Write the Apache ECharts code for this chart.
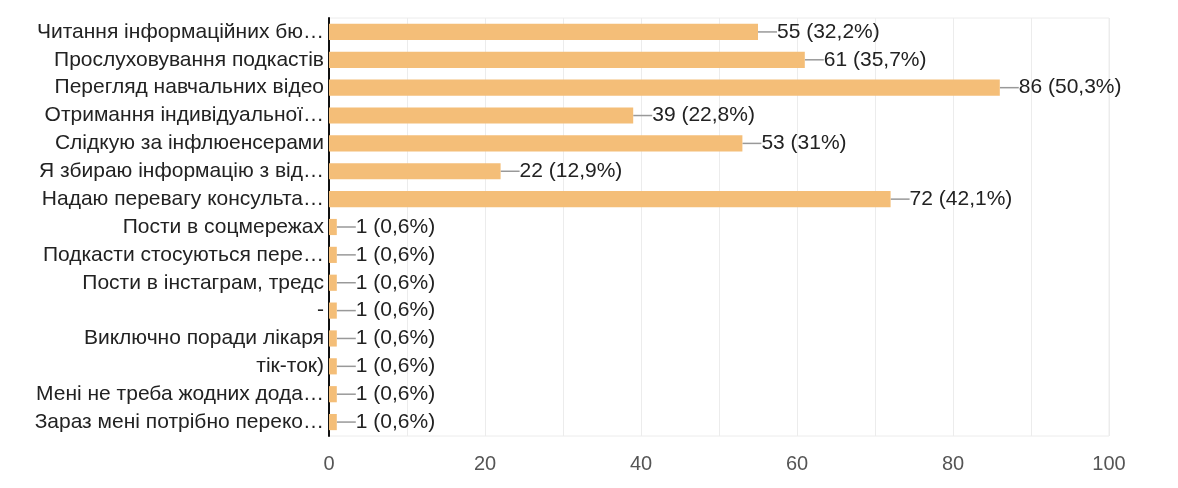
<!DOCTYPE html>
<html><head><meta charset="utf-8">
<script src="https://cdn.jsdelivr.net/npm/echarts@6/dist/echarts.min.js"></script>
<style>html,body{margin:0;padding:0;background:#fff}#c{width:1178px;height:488px}</style>
</head><body><div id="c"></div>
<script>
const categories = [
  "Читання інформаційних бю…",
  "Прослуховування подкастів",
  "Перегляд навчальних відео",
  "Отримання індивідуальної…",
  "Слідкую за інфлюенсерами",
  "Я збираю інформацію з від…",
  "Надаю перевагу консульта…",
  "Пости в соцмережах",
  "Подкасти стосуються пере…",
  "Пости в інстаграм, тредс",
  "-",
  "Виключно поради лікаря",
  "тік-ток)",
  "Мені не треба жодних дода…",
  "Зараз мені потрібно переко…"
];
const counts = [55, 61, 86, 39, 53, 22, 72, 1, 1, 1, 1, 1, 1, 1, 1];
const percents = ["32,2%", "35,7%", "50,3%", "22,8%", "31%", "12,9%", "42,1%", "0,6%", "0,6%", "0,6%", "0,6%", "0,6%", "0,6%", "0,6%", "0,6%"];
const xTicks = [0, 20, 40, 60, 80, 100];

const chart = echarts.init(document.getElementById('c'));
chart.setOption({
  animation: false,
  textStyle: {fontFamily: 'Liberation Sans, Arial, sans-serif'},
  grid: {left: 329, right: 69, top: 18, bottom: 52, show: true, borderColor: '#ececec', borderWidth: 1},
  xAxis: {
    type: 'value', min: 0, max: 100, interval: 10,
    axisLine: {show: false}, axisTick: {show: false},
    splitLine: {lineStyle: {color: '#ececec', width: 1}},
    axisLabel: {color: '#555', fontSize: 20, margin: 18,
      formatter: v => xTicks.includes(v) ? String(v) : ''}
  },
  yAxis: {
    type: 'category', data: categories, inverse: true,
    axisLine: {show: true, lineStyle: {color: '#111', width: 2}},
    axisTick: {show: false},
    axisLabel: {color: '#222', fontSize: 21, margin: 5}
  },
  series: [{
    type: 'bar', data: counts, barCategoryGap: '42%',
    itemStyle: {color: '#f4be78'},
    label: {show: true, position: 'right', distance: 0, color: '#222', fontSize: 21,
      formatter: p => counts[p.dataIndex] + ' (' + percents[p.dataIndex] + ')'},
    labelLayout: {dx: 19},
    labelLine: {show: true, lineStyle: {color: '#999', width: 1.5}}
  }]
});
</script></body></html>
